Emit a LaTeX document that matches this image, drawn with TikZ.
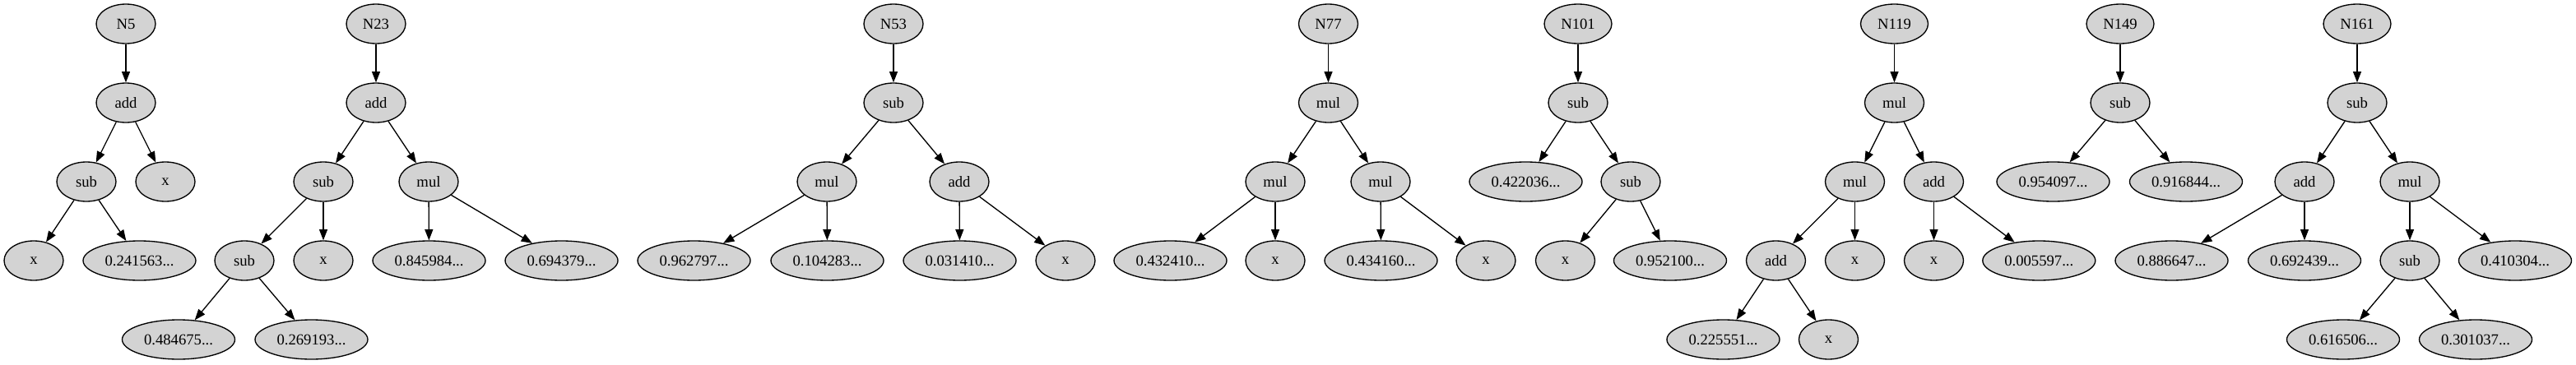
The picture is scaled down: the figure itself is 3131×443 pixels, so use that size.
\documentclass[tikz,border=0pt]{standalone}
\usepackage{fontspec}
\setmainfont{Liberation Serif}
\usetikzlibrary{shapes.geometric}
\usetikzlibrary{arrows.meta}
\definecolor{nodegray}{HTML}{D3D3D3}

\begin{document}
\begin{tikzpicture}[x=0.75pt, y=-0.75pt,
  opnode/.style={ellipse, draw=black, fill=nodegray, line width=1pt, inner sep=0pt,
                 minimum width=54pt, minimum height=36pt, font=\fontsize{14}{16}\selectfont},
  numnode/.style={opnode, minimum width=102.75pt},
  topnode/.style={opnode, minimum width=61.5pt},
  link/.style={-{Triangle[length=10pt, width=7.5pt]}, line width=1pt}]
\useasboundingbox (0,0) rectangle (3131,443);

  % tree N5
  \node[opnode] (n5) at (153,29) {N5};
  \node[opnode] (n5a) at (153,125) {add};
  \node[opnode] (n5b) at (105,221) {sub};
  \node[opnode] (n5c) at (201,221) {x};
  \node[opnode] (n5d) at (41,317) {x};
  \node[numnode] (n5e) at (169.5,317) {0.241563...};

  % tree N23
  \node[opnode] (n23) at (457,29) {N23};
  \node[opnode] (n23a) at (457,125) {add};
  \node[opnode] (n23b) at (393,221) {sub};
  \node[opnode] (n23c) at (521,221) {mul};
  \node[opnode] (n23d) at (297,317) {sub};
  \node[opnode] (n23e) at (393,317) {x};
  \node[numnode] (n23f) at (521.5,317) {0.845984...};
  \node[numnode] (n23g) at (682.5,317) {0.694379...};
  \node[numnode] (n23h) at (217,413) {0.484675...};
  \node[numnode] (n23i) at (378.5,413) {0.269193...};

  % tree N53
  \node[opnode] (n53) at (1086,29) {N53};
  \node[opnode] (n53a) at (1086,125) {sub};
  \node[opnode] (n53b) at (1005,221) {mul};
  \node[opnode] (n53c) at (1166,221) {add};
  \node[numnode] (n53d) at (843.5,317) {0.962797...};
  \node[numnode] (n53e) at (1005.5,317) {0.104283...};
  \node[numnode] (n53f) at (1166.5,317) {0.031410...};
  \node[opnode] (n53g) at (1295,317) {x};

  % tree N77
  \node[opnode] (n77) at (1614.5,29) {N77};
  \node[opnode] (n77a) at (1614.5,125) {mul};
  \node[opnode] (n77b) at (1550,221) {mul};
  \node[opnode] (n77c) at (1678,221) {mul};
  \node[numnode] (n77d) at (1422.5,317) {0.432410...};
  \node[opnode] (n77e) at (1550,317) {x};
  \node[numnode] (n77f) at (1678.5,317) {0.434160...};
  \node[opnode] (n77g) at (1806,317) {x};

  % tree N101
  \node[topnode] (n101) at (1918,29) {N101};
  \node[opnode] (n101a) at (1918,125) {sub};
  \node[numnode] (n101b) at (1854.5,221) {0.422036...};
  \node[opnode] (n101c) at (1982,221) {sub};
  \node[opnode] (n101d) at (1902.5,317) {x};
  \node[numnode] (n101e) at (2030,317) {0.952100...};

  % tree N119
  \node[topnode] (n119) at (2302.5,29) {N119};
  \node[opnode] (n119a) at (2302.5,125) {mul};
  \node[opnode] (n119b) at (2254.5,221) {mul};
  \node[opnode] (n119c) at (2350.5,221) {add};
  \node[opnode] (n119d) at (2158.5,317) {add};
  \node[opnode] (n119e) at (2254.5,317) {x};
  \node[opnode] (n119f) at (2350.5,317) {x};
  \node[numnode] (n119g) at (2478.3,317) {0.005597...};
  \node[numnode] (n119h) at (2094.5,413) {0.225551...};
  \node[opnode] (n119i) at (2222.5,413) {x};

  % tree N149
  \node[topnode] (n149) at (2577,29) {N149};
  \node[opnode] (n149a) at (2577,125) {sub};
  \node[numnode] (n149b) at (2495.5,221) {0.954097...};
  \node[numnode] (n149c) at (2657,221) {0.916844...};

  % tree N161
  \node[topnode] (n161) at (2865,29) {N161};
  \node[opnode] (n161a) at (2865,125) {sub};
  \node[opnode] (n161b) at (2801,221) {add};
  \node[opnode] (n161c) at (2929,221) {mul};
  \node[numnode] (n161d) at (2639.5,317) {0.886647...};
  \node[numnode] (n161e) at (2801,317) {0.692439...};
  \node[opnode] (n161f) at (2929,317) {sub};
  \node[numnode] (n161g) at (3057,317) {0.410304...};
  \node[numnode] (n161h) at (2848,413) {0.616506...};
  \node[numnode] (n161i) at (3009,413) {0.301037...};

\begin{scope}[link]
  % edges N5
  \draw (n5) -- (n5a);
  \draw (n5a) -- (n5b);
  \draw (n5a) -- (n5c);
  \draw (n5b) -- (n5d);
  \draw (n5b) -- (n5e);

  % edges N23
  \draw (n23) -- (n23a);
  \draw (n23a) -- (n23b);
  \draw (n23a) -- (n23c);
  \draw (n23b) -- (n23d);
  \draw (n23b) -- (n23e);
  \draw (n23c) -- (n23f);
  \draw (n23c) -- (n23g);
  \draw (n23d) -- (n23h);
  \draw (n23d) -- (n23i);

  % edges N53
  \draw (n53) -- (n53a);
  \draw (n53a) -- (n53b);
  \draw (n53a) -- (n53c);
  \draw (n53b) -- (n53d);
  \draw (n53b) -- (n53e);
  \draw (n53c) -- (n53f);
  \draw (n53c) -- (n53g);

  % edges N77
  \draw (n77) -- (n77a);
  \draw (n77a) -- (n77b);
  \draw (n77a) -- (n77c);
  \draw (n77b) -- (n77d);
  \draw (n77b) -- (n77e);
  \draw (n77c) -- (n77f);
  \draw (n77c) -- (n77g);

  % edges N101
  \draw (n101) -- (n101a);
  \draw (n101a) -- (n101b);
  \draw (n101a) -- (n101c);
  \draw (n101c) -- (n101d);
  \draw (n101c) -- (n101e);

  % edges N119
  \draw (n119) -- (n119a);
  \draw (n119a) -- (n119b);
  \draw (n119a) -- (n119c);
  \draw (n119b) -- (n119d);
  \draw (n119b) -- (n119e);
  \draw (n119c) -- (n119f);
  \draw (n119c) -- (n119g);
  \draw (n119d) -- (n119h);
  \draw (n119d) -- (n119i);

  % edges N149
  \draw (n149) -- (n149a);
  \draw (n149a) -- (n149b);
  \draw (n149a) -- (n149c);

  % edges N161
  \draw (n161) -- (n161a);
  \draw (n161a) -- (n161b);
  \draw (n161a) -- (n161c);
  \draw (n161b) -- (n161d);
  \draw (n161b) -- (n161e);
  \draw (n161c) -- (n161f);
  \draw (n161c) -- (n161g);
  \draw (n161f) -- (n161h);
  \draw (n161f) -- (n161i);
\end{scope}
\end{tikzpicture}
\end{document}
